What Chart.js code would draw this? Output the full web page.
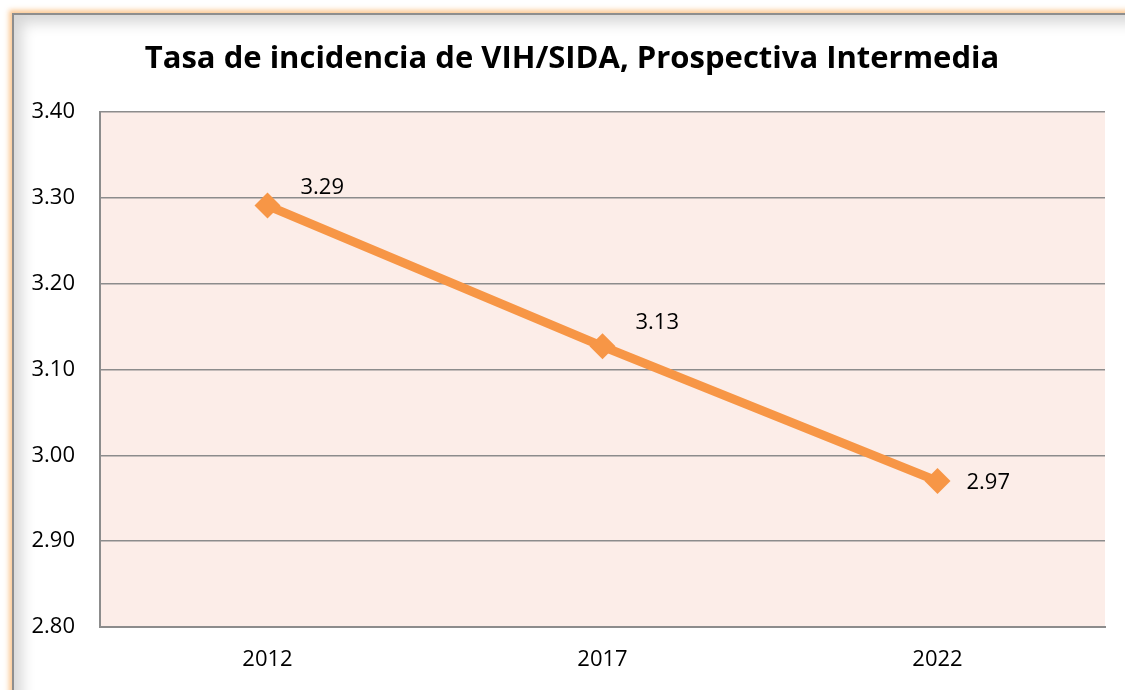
<!DOCTYPE html>
<html>
<head>
<meta charset="utf-8">
<script src="https://cdn.jsdelivr.net/npm/chart.js@4.4.1/dist/chart.umd.min.js"></script>
<style>
    html, body { margin: 0; padding: 0; background: #ffffff; overflow: hidden; }
    #frame {
        position: absolute; left: 12px; top: 13px; width: 1200px; height: 800px;
        border: 2px solid #8e8e8e;
        box-shadow: 0 0 5px 3px rgba(250, 192, 130, 0.85),
                    inset 16px 16px 14px -8px rgba(0, 0, 0, 0.16);
        background: #ffffff;
    }
    #wrap { position: absolute; left: 0; top: 0; width: 1125px; height: 690px; }
</style>
</head>
<body>
<div id="frame"></div>
<div id="wrap"><canvas id="chart"></canvas></div>
<script>
const years = ['2012', '2017', '2022'];
const rates = [3.291, 3.127, 2.970];
const rate_labels = ['3.29', '3.13', '2.97'];
const chart_title = 'Tasa de incidencia de VIH/SIDA, Prospectiva Intermedia';

// background of the plot area
const plot_bg = {
    id: 'plot_bg',
    beforeDraw(chart) {
        const a = chart.chartArea;
        const ctx = chart.ctx;
        ctx.save();
        ctx.fillStyle = '#fcede8';
        ctx.fillRect(a.left, a.top, a.right - a.left, a.bottom - a.top);
        ctx.restore();
    }
};

// title, a bit right of the canvas centre like the original
const top_title = {
    id: 'top_title',
    afterDraw(chart, args, opts) {
        const ctx = chart.ctx;
        ctx.save();
        ctx.font = 'bold 31px "Open Sans", sans-serif';
        ctx.fillStyle = '#000000';
        ctx.textAlign = 'center';
        ctx.textBaseline = 'middle';
        ctx.fillText(opts.text, opts.x, opts.y);
        ctx.restore();
    }
};

// value labels beside each point
const value_labels = {
    id: 'value_labels',
    afterDatasetsDraw(chart, args, opts) {
        const ctx = chart.ctx;
        const meta = chart.getDatasetMeta(0);
        ctx.save();
        ctx.font = '22px "Open Sans", sans-serif';
        ctx.fillStyle = '#000000';
        ctx.textAlign = 'left';
        ctx.textBaseline = 'middle';
        meta.data.forEach(function (pt, i) {
            const off = opts.offsets[i];
            ctx.fillText(rate_labels[i], pt.x + off[0], pt.y + off[1]);
        });
        ctx.restore();
    }
};

const ctx = document.getElementById('chart');
const config = {
    type: 'line',
    data: {
        labels: years,
        datasets: [{
            data: rates,
            borderColor: '#f79646',
            backgroundColor: '#f79646',
            borderWidth: 9,
            pointStyle: 'rectRot',
            pointRadius: 13,
            pointBorderWidth: 0,
            tension: 0,
        }]
    },
    options: {
        responsive: true,
        maintainAspectRatio: false,
        animation: false,
        layout: { padding: { left: 25, right: 20, top: 112, bottom: 23 } },
        plugins: {
            legend: { display: false },
            tooltip: { enabled: false },
            title: { display: false },
            top_title: { text: chart_title, x: 572, y: 59 },
            value_labels: { offsets: [[33, -18], [33, -24], [29, 2]] }
        },
        scales: {
            x: {
                offset: true,
                grid: { display: false, drawTicks: false },
                border: { display: true, color: '#8c8c8c', width: 2 },
                ticks: { color: '#000000', padding: 20, font: { family: '"Open Sans", sans-serif', size: 22 } },
                afterFit: function (scale) { scale.height = 40; }
            },
            y: {
                min: 2.8,
                max: 3.4,
                grid: { color: '#8c8c8c', lineWidth: 1.5, drawTicks: false },
                border: { display: true, color: '#8c8c8c', width: 2 },
                ticks: {
                    stepSize: 0.1,
                    color: '#000000',
                    padding: 25,
                    font: { family: '"Open Sans", sans-serif', size: 22 },
                    callback: function (v) { return v.toFixed(2); }
                },
                afterFit: function (scale) { scale.width = 75; }
            }
        }
    },
    plugins: [plot_bg, value_labels, top_title]
};

_ = new Chart(ctx, config);
</script>
</body>
</html>
